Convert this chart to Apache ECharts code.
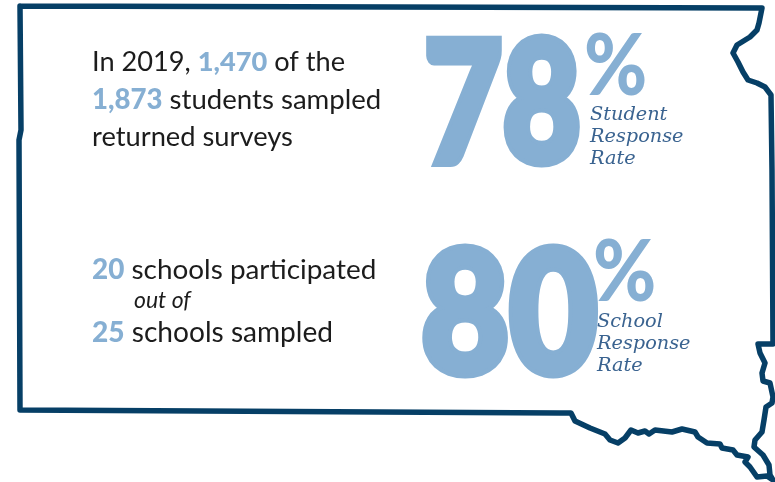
<!DOCTYPE html>
<html><head><meta charset="utf-8">
<style>html,body{margin:0;padding:0;background:#fff}#c{width:775px;height:482px}</style>
<script src="https://cdn.jsdelivr.net/npm/echarts@6/dist/echarts.min.js"></script></head>
<body><div id="c"></div>
<script>
const outlineX=[20,762,759,757,750,737,733,738,743,748,757,765,771,772,773,758,760,765,762,763,770,773,772,766,764,762,755,754,763,769,770,773,767,757,750,745,748,737,733,722,720,707,698,695,682,672,655,649,645,638,631,625,618,610,605,590,575,571,560,20,19,21,20];
const outlineY=[6,8,23,30,37,45,53,62,72,80,83,87,95,170,344,344,353,363,373,381,383,397,403,407,420,432,440,447,455,465,475,480,476,477,467,462,457,455,450,448,444,443,437,432,429,432,430,434,431,433,430,438,443,440,434,428,421,413,413,410,140,130,6];
const studentRate="78", schoolRate="80";
const sampledStudents="1,873", returnedSurveys="1,470", sampledSchools="25", participatingSchools="20";
const studentLabel=["Student","Response","Rate"], schoolLabel=["School","Response","Rate"];
const NAVY="#063f66", BLUE="#86afd3", SLATE="#3a6390", INK="#1c1c1c";
const chart=echarts.init(document.getElementById('c'),null,{renderer:'canvas'});
const bodyFont='Lato';
function body(x,y,rich,FS){return {type:'text',x,y,style:{text:rich,x:0,y:0,fill:INK,font:'400 '+FS+'px '+bodyFont,textVerticalAlign:'middle',rich:{
  b:{fill:BLUE,fontFamily:bodyFont,fontWeight:900,fontSize:FS,color:BLUE},
  n:{fill:INK,color:INK,fontFamily:bodyFont,fontWeight:400,fontSize:FS}}}};}
function big(x,y,t,sx,fs){return {type:'text',x,y,scaleX:sx,style:{text:t,x:0,y:0,fill:BLUE,stroke:BLUE,lineWidth:9,font:'900 '+fs+'px Lato',textVerticalAlign:'middle',lineJoin:'miter'}};}
function pct(x,y){return {type:'text',x,y,scaleX:0.89,style:{text:'%',x:0,y:0,fill:BLUE,font:'900 86px Lato',textVerticalAlign:'middle'}};}
function lab(x,y,arr){return arr.map((t,i)=>({type:'text',x,y:y+i*22.3,style:{text:t,x:0,y:0,fill:SLATE,font:'italic 400 19.3px "DejaVu Serif"',textVerticalAlign:'middle'}}));}
chart.setOption({
  animation:false,backgroundColor:'#fff',
  grid:{left:0,top:0,width:775,height:482},
  xAxis:{type:'value',min:0,max:775,show:false},
  yAxis:{type:'value',min:0,max:482,inverse:true,show:false},
  series:[{type:'line',showSymbol:false,silent:true,data:outlineX.map((x,i)=>[x,outlineY[i]]),
    lineStyle:{color:NAVY,width:5.5,join:'round',cap:'round'}}],
  graphic:[
    body(92,62,`{n|In 2019, }{b|${returnedSurveys}}{n| of the}`,27.2),
    body(92,100,`{b|${sampledStudents}}{n| students sampled}`,27.6),
    body(92,137,`{n|returned surveys}`,27.3),
    body(92,270,`{b|${participatingSchools}}{n| schools participated}`,27.9),
    {type:'text',x:134,y:301,style:{text:'out of',x:0,y:0,fill:INK,font:'italic 400 23px Lato',textVerticalAlign:'middle'}},
    body(92,333,`{b|${sampledSchools}}{n| schools sampled}`,28.1),
    big(424,108,studentRate,0.805,168),
    big(421,318,schoolRate,0.895,170),
    pct(584,67),pct(593,273.5),
    ...lab(590,114.5,studentLabel),
    ...lab(597,321.5,schoolLabel)
  ]
});
</script></body></html>
